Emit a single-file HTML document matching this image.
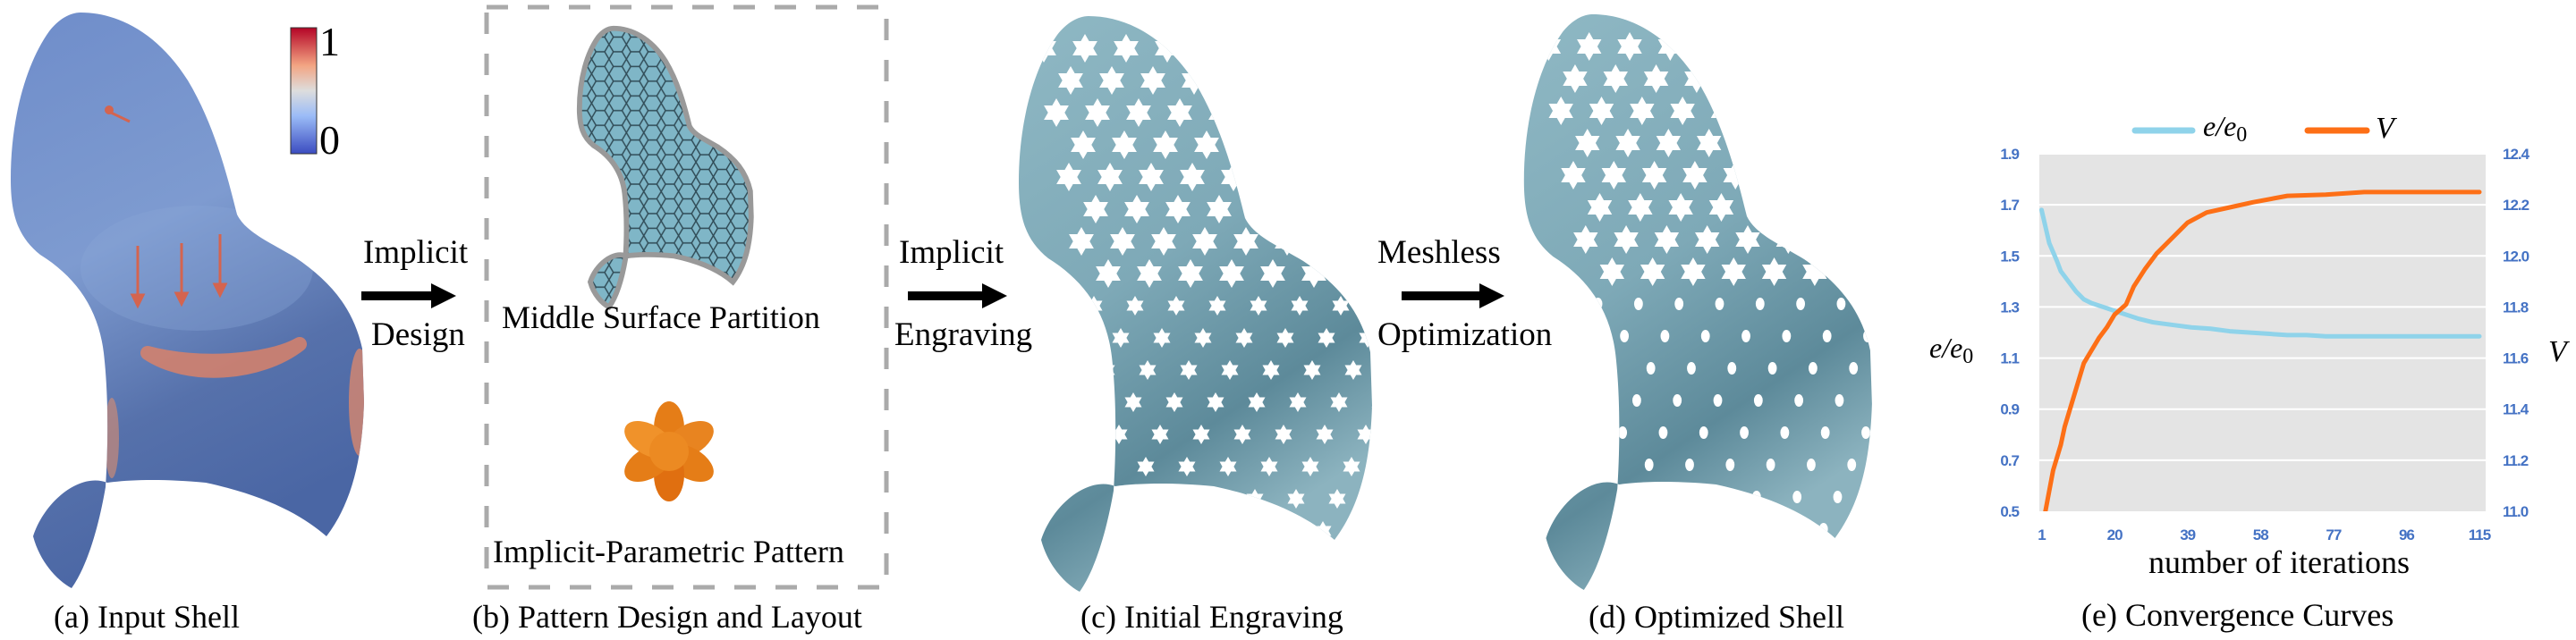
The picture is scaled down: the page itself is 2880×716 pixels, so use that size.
<!DOCTYPE html>
<html><head><meta charset="utf-8">
<style>
html,body{margin:0;padding:0;background:#fff;}
svg{display:block;}
.serif{font-family:"Liberation Serif",serif;}
</style></head>
<body>
<svg id="fig" width="2880" height="716" viewBox="0 0 2880 716" xmlns="http://www.w3.org/2000/svg">
<defs>
  <linearGradient id="gA" x1="0" y1="0" x2="0.3" y2="1">
    <stop offset="0" stop-color="#6f8dca"/>
    <stop offset="0.45" stop-color="#7e9bd0"/>
    <stop offset="0.75" stop-color="#5671ab"/>
    <stop offset="1" stop-color="#4a66a4"/>
  </linearGradient>
  <linearGradient id="gC" x1="0" y1="0" x2="0.4" y2="1">
    <stop offset="0" stop-color="#8fb8c4"/>
    <stop offset="0.5" stop-color="#7ea9b7"/>
    <stop offset="0.8" stop-color="#5d8a9a"/>
    <stop offset="1" stop-color="#8cb3bf"/>
  </linearGradient>
  <linearGradient id="gBar" x1="0" y1="1" x2="0" y2="0">
    <stop offset="0" stop-color="#3b4cc0"/>
    <stop offset="0.3" stop-color="#9bbcf7"/>
    <stop offset="0.5" stop-color="#dddddd"/>
    <stop offset="0.7" stop-color="#f3a583"/>
    <stop offset="1" stop-color="#b40426"/>
  </linearGradient>
  <pattern id="hex" width="40" height="34" patternUnits="userSpaceOnUse">
    <rect width="40" height="34" fill="#7fb6c7"/>
    <path d="M0,17 L10,0 L30,0 L40,17 L30,34 L10,34 Z" fill="none" stroke="#2f4a55" stroke-width="3"/>
  </pattern>
  <path id="chair" d="M90,14 C130,14 175,35 210,90 C240,140 255,200 265,240 C275,260 300,270 330,288 C370,315 395,345 405,390 L407,450 C405,510 395,560 365,600 C340,578 300,555 230,540 C180,535 140,537 120,540 C90,528 50,560 37,600 C45,630 65,650 80,658 C100,630 112,580 118,545 C122,480 120,430 116,395 C110,345 85,310 45,285 C20,265 12,240 12,200 C12,130 30,70 55,35 C65,22 78,14 90,14 Z"/>
  <clipPath id="clipChair"><use href="#chair"/></clipPath>
</defs>

<!-- (a) input shell -->
<g>
  <use href="#chair" fill="url(#gA)"/>
  <g clip-path="url(#clipChair)">
    <path d="M165,395 C210,425 290,420 335,385 C300,405 220,410 165,395 Z" fill="#d9826a" stroke="#d9826a" stroke-width="16" stroke-linejoin="round" opacity="0.85"/>
    <ellipse cx="402" cy="450" rx="12" ry="60" fill="#d8876e" opacity="0.8"/>
    <ellipse cx="125" cy="490" rx="8" ry="45" fill="#c98a78" opacity="0.7"/>
    <ellipse cx="220" cy="300" rx="130" ry="70" fill="#8aa6d8" opacity="0.35"/>
  </g>
  <line x1="122" y1="125" x2="145" y2="136" stroke="#d4644f" stroke-width="3"/>
  <circle cx="122" cy="123" r="5" fill="#d4644f"/>
  <g stroke="#d4644f" stroke-width="3" fill="#d4644f">
    <line x1="154" y1="275" x2="154" y2="330"/><path d="M148,330 L160,330 L154,342 Z"/>
    <line x1="203" y1="272" x2="203" y2="328"/><path d="M197,328 L209,328 L203,340 Z"/>
    <line x1="246" y1="262" x2="246" y2="318"/><path d="M240,318 L252,318 L246,330 Z"/>
  </g>
  <rect x="325" y="31" width="29" height="141" fill="url(#gBar)" stroke="#333" stroke-width="1"/>
  <text x="357" y="62" class="serif" font-size="46">1</text>
  <text x="357" y="172" class="serif" font-size="46">0</text>
</g>
<text x="60" y="702" class="serif" font-size="36">(a)  Input Shell</text>

<!-- arrow 1 -->
<text x="406" y="294" class="serif" font-size="37">Implicit</text>
<path d="M404,326 L482,326 L482,317 L510,331 L482,345 L482,336 L404,336 Z" fill="#000"/>
<text x="415" y="386" class="serif" font-size="37">Design</text>

<!-- (b) box -->
<rect x="544" y="8" width="447" height="649" fill="none" stroke="#aaaaaa" stroke-width="5" stroke-dasharray="24,22"/>
<g transform="translate(642,25) scale(0.486,0.484)">
  <use href="#chair" fill="url(#hex)" stroke="#999" stroke-width="12"/>
</g>
<text x="561" y="367" class="serif" font-size="36">Middle Surface  Partition</text>
<g transform="translate(748,505)">
  <ellipse cx="0" cy="-26" rx="17" ry="30" fill="#e57d17" transform="rotate(0)"/>
  <ellipse cx="0" cy="-26" rx="17" ry="30" fill="#e88420" transform="rotate(60)"/>
  <ellipse cx="0" cy="-26" rx="17" ry="30" fill="#e57d17" transform="rotate(120)"/>
  <ellipse cx="0" cy="-26" rx="17" ry="30" fill="#e06f10" transform="rotate(180)"/>
  <ellipse cx="0" cy="-26" rx="17" ry="30" fill="#e57d17" transform="rotate(240)"/>
  <ellipse cx="0" cy="-26" rx="17" ry="30" fill="#f0922a" transform="rotate(300)"/>
  <circle r="22" fill="#ec8a22"/>
</g>
<text x="551" y="629" class="serif" font-size="36">Implicit-Parametric Pattern</text>
<text x="528" y="702" class="serif" font-size="36">(b) Pattern Design and Layout</text>

<!-- arrow 2 -->
<text x="1005" y="294" class="serif" font-size="37">Implicit</text>
<path d="M1015,326 L1098,326 L1098,317 L1126,331 L1098,345 L1098,336 L1015,336 Z" fill="#000"/>
<text x="1000" y="386" class="serif" font-size="37">Engraving</text>

<!-- (c) -->
<g id="chairC" transform="translate(1127,4)">
  <use href="#chair" fill="url(#gC)"/>
  <g id="holesC" clip-path="url(#clipChair)"></g>
</g>
<text x="1208" y="702" class="serif" font-size="36">(c)  Initial Engraving</text>

<!-- arrow 3 -->
<text x="1540" y="294" class="serif" font-size="37">Meshless</text>
<path d="M1567,326 L1654,326 L1654,317 L1682,331 L1654,345 L1654,336 L1567,336 Z" fill="#000"/>
<text x="1540" y="386" class="serif" font-size="37">Optimization</text>

<!-- (d) -->
<g id="chairD" transform="translate(1692,2) scale(0.985,1)">
  <use href="#chair" fill="url(#gC)"/>
  <g id="holesD" clip-path="url(#clipChair)"></g>
</g>
<text x="1776" y="702" class="serif" font-size="36">(d)  Optimized Shell</text>

<!-- (e) chart -->
<g id="chart"></g>
<text x="2327" y="700" class="serif" font-size="36">(e)    Convergence Curves</text>
</svg>

<script>
// ---- chart data ----
const xTicks = [1, 20, 39, 58, 77, 96, 115];
const leftTicks = [0.5, 0.7, 0.9, 1.1, 1.3, 1.5, 1.7, 1.9];
const rightTicks = ["11.0", "11.2", "11.4", "11.6", "11.8", "12.0", "12.2", "12.4"];
const eIter = [1, 3, 5, 6, 8, 10, 12, 14, 17, 20, 23, 26, 30, 35, 40, 45, 50, 55, 60, 65, 70, 75, 115];
const eVal = [1.68, 1.55, 1.48, 1.44, 1.40, 1.36, 1.33, 1.315, 1.30, 1.285, 1.27, 1.255, 1.24, 1.23, 1.22, 1.215, 1.205, 1.20, 1.195, 1.19, 1.19, 1.185, 1.185];
const vIter = [2, 4, 6, 7, 9, 12, 14, 16, 18, 20, 23, 25, 28, 31, 35, 39, 44, 50, 56, 65, 75, 85, 115];
const vVal = [11.0, 11.16, 11.26, 11.33, 11.43, 11.58, 11.63, 11.68, 11.72, 11.77, 11.81, 11.88, 11.95, 12.01, 12.07, 12.13, 12.17, 12.19, 12.21, 12.235, 12.24, 12.25, 12.25];

const NS = "http://www.w3.org/2000/svg";
const chart = document.getElementById("chart");
const P = {l: 2280, r: 2779, t: 172, b: 572};
function xs(i) { return 2282.5 + (i - 1) * (2772 - 2282.5) / 114; }
function yL(v) { return P.b - (v - 0.5) / 1.4 * (P.b - P.t); }
function yR(v) { return P.b - (v - 11.0) / 1.4 * (P.b - P.t); }
function mk(tag, attrs, parent) {
  const el = document.createElementNS(NS, tag);
  for (const k in attrs) el.setAttribute(k, attrs[k]);
  (parent || chart).appendChild(el);
  return el;
}
let bg = mk("rect", {x: P.l, y: P.t, width: P.r - P.l, height: P.b - P.t, fill: "#e4e4e4"});


leftTicks.forEach((v, k) => {
  const y = yL(v);
  if (k > 0) {
    const g = mk("line", {x1: P.l, x2: P.r, y1: y, y2: y, stroke: "#fff", "stroke-width": 2});
    
    
  }
  const t = mk("text", {x: 2257, y: y + 6, "text-anchor": "end", "font-family": "Liberation Sans, sans-serif", "font-weight": "bold", "font-size": 17, fill: "#4472c4", "letter-spacing": "-1"});
  t.textContent = v.toFixed(1);
  
  
});
rightTicks.forEach((s) => {
  const y = yR(parseFloat(s));
  const t = mk("text", {x: 2798, y: y + 6, "font-family": "Liberation Sans, sans-serif", "font-weight": "bold", "font-size": 17, fill: "#4472c4", "letter-spacing": "-1"});
  t.textContent = s;
  
  
});
xTicks.forEach((i) => {
  const t = mk("text", {x: xs(i), y: 604, "text-anchor": "middle", "font-family": "Liberation Sans, sans-serif", "font-weight": "bold", "font-size": 17, fill: "#4472c4", "letter-spacing": "-1"});
  t.textContent = i;
  
  
});
const clip = mk("clipPath", {id: "plotClip"});
mk("rect", {x: P.l, y: P.t - 5, width: P.r - P.l + 3, height: P.b - P.t + 5}, clip);
const eLine = mk("polyline", {points: eIter.map((i, k) => xs(i) + "," + yL(eVal[k])).join(" "), fill: "none", stroke: "#8fd3ea", "stroke-width": 5, "stroke-linejoin": "round", "stroke-linecap": "round", "clip-path": "url(#plotClip)"});


const vLine = mk("polyline", {points: vIter.map((i, k) => xs(i) + "," + yR(vVal[k])).join(" "), fill: "none", stroke: "#fd6f16", "stroke-width": 5, "stroke-linejoin": "round", "stroke-linecap": "round", "clip-path": "url(#plotClip)"});


// legend
const l1 = mk("line", {x1: 2387, x2: 2451, y1: 146, y2: 146, stroke: "#8fd3ea", "stroke-width": 7, "stroke-linecap": "round"});


const lt1 = mk("text", {x: 2463, y: 152, "font-family": "Liberation Serif, serif", "font-style": "italic", "font-size": 32});
lt1.innerHTML = 'e/e<tspan font-style="normal" font-size="24" dy="6">0</tspan>';


const l2 = mk("line", {x1: 2580, x2: 2646, y1: 146, y2: 146, stroke: "#fd6f16", "stroke-width": 7, "stroke-linecap": "round"});


const lt2 = mk("text", {x: 2656, y: 154, "font-family": "Liberation Serif, serif", "font-style": "italic", "font-size": 34});
lt2.textContent = "V";


// axis titles
const yt = mk("text", {x: 2157, y: 400, "font-family": "Liberation Serif, serif", "font-style": "italic", "font-size": 32});
yt.innerHTML = 'e/e<tspan font-style="normal" font-size="24" dy="6">0</tspan>';


const vt = mk("text", {x: 2849, y: 404, "font-family": "Liberation Serif, serif", "font-style": "italic", "font-size": 34});
vt.textContent = "V";


const xt = mk("text", {x: 2548, y: 641, "text-anchor": "middle", "font-family": "Liberation Serif, serif", "font-size": 36});
xt.textContent = "number of iterations";



// ---- decorative holes on engraved chairs ----
function star(cx, cy, r) {
  let d = "";
  for (let k = 0; k < 12; k++) {
    const a = Math.PI / 6 * k - Math.PI / 2;
    const rr = k % 2 ? r * 0.58 : r;
    d += (k ? "L" : "M") + (cx + rr * Math.cos(a)).toFixed(1) + "," + (cy + rr * Math.sin(a)).toFixed(1);
  }
  return d + "Z";
}
function holes(id, optimized) {
  const g = document.getElementById(id);
  for (let row = 0; row < 16; row++) {
    for (let col = 0; col < 8; col++) {
      const cy = 50 + row * 36;
      const cx = 40 + col * 46 + (row % 2) * 23 + row * 7;
      const r = row < 8 ? 16 : 11;
      let el;
      if (optimized && row >= 8) {
        el = document.createElementNS(NS, "ellipse");
        el.setAttribute("cx", cx); el.setAttribute("cy", cy);
        el.setAttribute("rx", 5); el.setAttribute("ry", 7);
        el.setAttribute("fill", "#ffffff");
      } else {
        el = document.createElementNS(NS, "path");
        el.setAttribute("d", star(cx, cy, r));
        el.setAttribute("fill", "#ffffff");
      }
      
      
      g.appendChild(el);
    }
  }
}
holes("holesC", false);
holes("holesD", true);
</script>
</body></html>
